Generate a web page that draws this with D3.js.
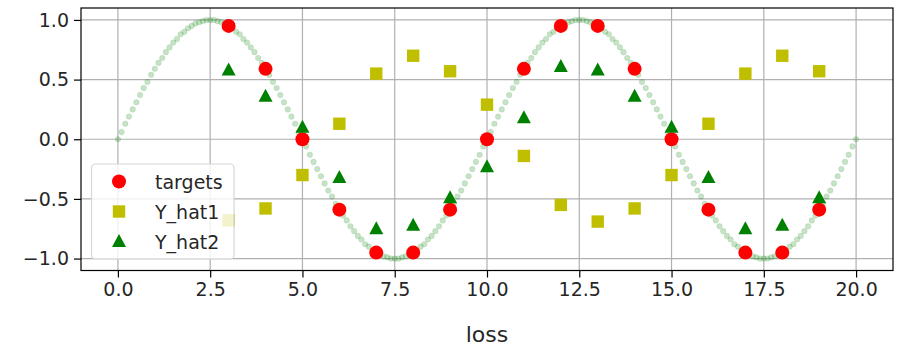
<!DOCTYPE html>
<html>
<head>
<meta charset="utf-8">
<script src="https://cdn.jsdelivr.net/npm/d3@7"></script>
<style>
  body { margin: 0; background: #fff; }
  svg text { font-family: "DejaVu Sans", sans-serif; fill: #262626; }
</style>
</head>
<body>
<svg id="chart" width="897" height="347"></svg>
<script>
// sampled curve, one point every 0.1 from 0 to 20
var curveStep = 0.1;
var curveY = [
  0, 0.06, 0.13, 0.19, 0.25, 0.31, 0.37, 0.43, 0.48, 0.54,
  0.59, 0.64, 0.68, 0.73, 0.77, 0.81, 0.84, 0.88, 0.90, 0.93,
  0.95, 0.97, 0.98, 0.99, 1.00, 1.00, 1.00, 0.99, 0.98, 0.97,
  0.95, 0.93, 0.90, 0.88, 0.84, 0.81, 0.77, 0.73, 0.68, 0.64,
  0.59, 0.54, 0.48, 0.43, 0.37, 0.31, 0.25, 0.19, 0.13, 0.06,
  0, -0.06, -0.13, -0.19, -0.25, -0.31, -0.37, -0.43, -0.48, -0.54,
  -0.59, -0.64, -0.68, -0.73, -0.77, -0.81, -0.84, -0.88, -0.90, -0.93,
  -0.95, -0.97, -0.98, -0.99, -1.00, -1.00, -1.00, -0.99, -0.98, -0.97,
  -0.95, -0.93, -0.90, -0.88, -0.84, -0.81, -0.77, -0.73, -0.68, -0.64,
  -0.59, -0.54, -0.48, -0.43, -0.37, -0.31, -0.25, -0.19, -0.13, -0.06,
  0, 0.06, 0.13, 0.19, 0.25, 0.31, 0.37, 0.43, 0.48, 0.54,
  0.59, 0.64, 0.68, 0.73, 0.77, 0.81, 0.84, 0.88, 0.90, 0.93,
  0.95, 0.97, 0.98, 0.99, 1.00, 1.00, 1.00, 0.99, 0.98, 0.97,
  0.95, 0.93, 0.90, 0.88, 0.84, 0.81, 0.77, 0.73, 0.68, 0.64,
  0.59, 0.54, 0.48, 0.43, 0.37, 0.31, 0.25, 0.19, 0.13, 0.06,
  0, -0.06, -0.13, -0.19, -0.25, -0.31, -0.37, -0.43, -0.48, -0.54,
  -0.59, -0.64, -0.68, -0.73, -0.77, -0.81, -0.84, -0.88, -0.90, -0.93,
  -0.95, -0.97, -0.98, -0.99, -1.00, -1.00, -1.00, -0.99, -0.98, -0.97,
  -0.95, -0.93, -0.90, -0.88, -0.84, -0.81, -0.77, -0.73, -0.68, -0.64,
  -0.59, -0.54, -0.48, -0.43, -0.37, -0.31, -0.25, -0.19, -0.13, -0.06,
  0
];

// time steps of the markers
var steps = [3, 4, 5, 6, 7, 8, 9, 10, 11, 12, 13, 14, 15, 16, 17, 18, 19];
var targets = [0.95, 0.59, 0, -0.59, -0.95, -0.95, -0.59, 0, 0.59, 0.95, 0.95, 0.59, 0, -0.59, -0.95, -0.95, -0.59];
var yHat1 = [-0.68, -0.58, -0.30, 0.13, 0.55, 0.70, 0.57, 0.29, -0.14, -0.55, -0.69, -0.58, -0.30, 0.13, 0.55, 0.70, 0.57];
var yHat2 = [0.58, 0.36, 0.10, -0.32, -0.75, -0.72, -0.49, -0.23, 0.18, 0.61, 0.58, 0.36, 0.10, -0.32, -0.75, -0.72, -0.49];

var xTicks = [0, 2.5, 5, 7.5, 10, 12.5, 15, 17.5, 20];
var yTicks = [-1.0, -0.5, 0.0, 0.5, 1.0];
var legendNames = ["targets", "Y_hat1", "Y_hat2"];

var svg = d3.select("#chart");
var plotL = 81, plotR = 893, plotT = 8, plotB = 270.5;

var x = d3.scaleLinear().domain([-1, 21]).range([plotL, plotR]);
var y = d3.scaleLinear().domain([-1.1, 1.1]).range([plotB, plotT]);

// grid
svg.append("g").selectAll("line").data(xTicks).enter().append("line")
    .attr("x1", function (d) { return x(d); }).attr("x2", function (d) { return x(d); })
    .attr("y1", plotT).attr("y2", plotB)
    .attr("stroke", "#b0b0b0").attr("stroke-width", 1.2);
svg.append("g").selectAll("line").data(yTicks).enter().append("line")
    .attr("x1", plotL).attr("x2", plotR)
    .attr("y1", function (d) { return y(d); }).attr("y2", function (d) { return y(d); })
    .attr("stroke", "#b0b0b0").attr("stroke-width", 1.2);

// axes
var xAxis = svg.append("g")
    .attr("transform", "translate(0," + plotB + ")")
    .call(d3.axisBottom(x).tickValues(xTicks).tickFormat(d3.format(".1f")).tickSize(7).tickPadding(5));
var yAxis = svg.append("g")
    .attr("transform", "translate(" + plotL + ",0)")
    .call(d3.axisLeft(y).tickValues(yTicks).tickFormat(d3.format(".1f")).tickSize(7).tickPadding(5));
[xAxis, yAxis].forEach(function (a) {
    a.select(".domain").remove();
    a.attr("font-family", null).attr("font-size", null);
    a.selectAll("text").style("font-size", "19px").attr("fill", "#262626");
    a.selectAll("line").attr("stroke", "#000").attr("stroke-width", 1.2);
});

// curve dots
svg.append("g").selectAll("circle").data(curveY).enter().append("circle")
    .attr("cx", function (d, i) { return x(i * curveStep); })
    .attr("cy", function (d) { return y(d); })
    .attr("r", 2.8)
    .attr("fill", "#008000").attr("fill-opacity", 0.22)
    .attr("stroke", "#008000").attr("stroke-opacity", 0.12).attr("stroke-width", 0.8);

// markers
function drawTargets(g, cx, cy) {
    g.append("circle").attr("cx", cx).attr("cy", cy).attr("r", 7).attr("fill", "#ff0000");
}
function drawSquare(g, cx, cy) {
    g.append("rect").attr("x", cx - 6.2).attr("y", cy - 6.2).attr("width", 12.4).attr("height", 12.4).attr("fill", "#bfbf00");
}
function drawTriangle(g, cx, cy) {
    g.append("path")
        .attr("d", "M" + cx + "," + (cy - 7.5) + "L" + (cx + 7) + "," + (cy + 5.5) + "L" + (cx - 7) + "," + (cy + 5.5) + "Z")
        .attr("fill", "#008000");
}
var drawers = [drawTargets, drawSquare, drawTriangle];
var seriesData = [targets, yHat1, yHat2];

var marks = svg.append("g");
seriesData.forEach(function (vals, s) {
    vals.forEach(function (v, i) {
        drawers[s](marks, x(steps[i]), y(v));
    });
});

// frame
svg.append("rect").attr("x", plotL).attr("y", plotT)
    .attr("width", plotR - plotL).attr("height", plotB - plotT)
    .attr("fill", "none").attr("stroke", "#000").attr("stroke-width", 1.2);

// legend
var lg = svg.append("g");
lg.append("rect").attr("x", 91.5).attr("y", 164).attr("width", 142.5).attr("height", 95)
    .attr("rx", 4).attr("fill", "#fff").attr("fill-opacity", 0.8)
    .attr("stroke", "#d6d6d6").attr("stroke-width", 1.2);
legendNames.forEach(function (name, i) {
    var cy = 181.5 + i * 30;
    drawers[i](lg, 119, cy);
    lg.append("text").attr("x", 155).attr("y", cy + 7)
        .style("font-size", "19px").text(name);
});

// x label
svg.append("text").attr("x", (plotL + plotR) / 2).attr("y", 342)
    .attr("text-anchor", "middle").style("font-size", "22px").text("loss");
</script>
</body>
</html>
